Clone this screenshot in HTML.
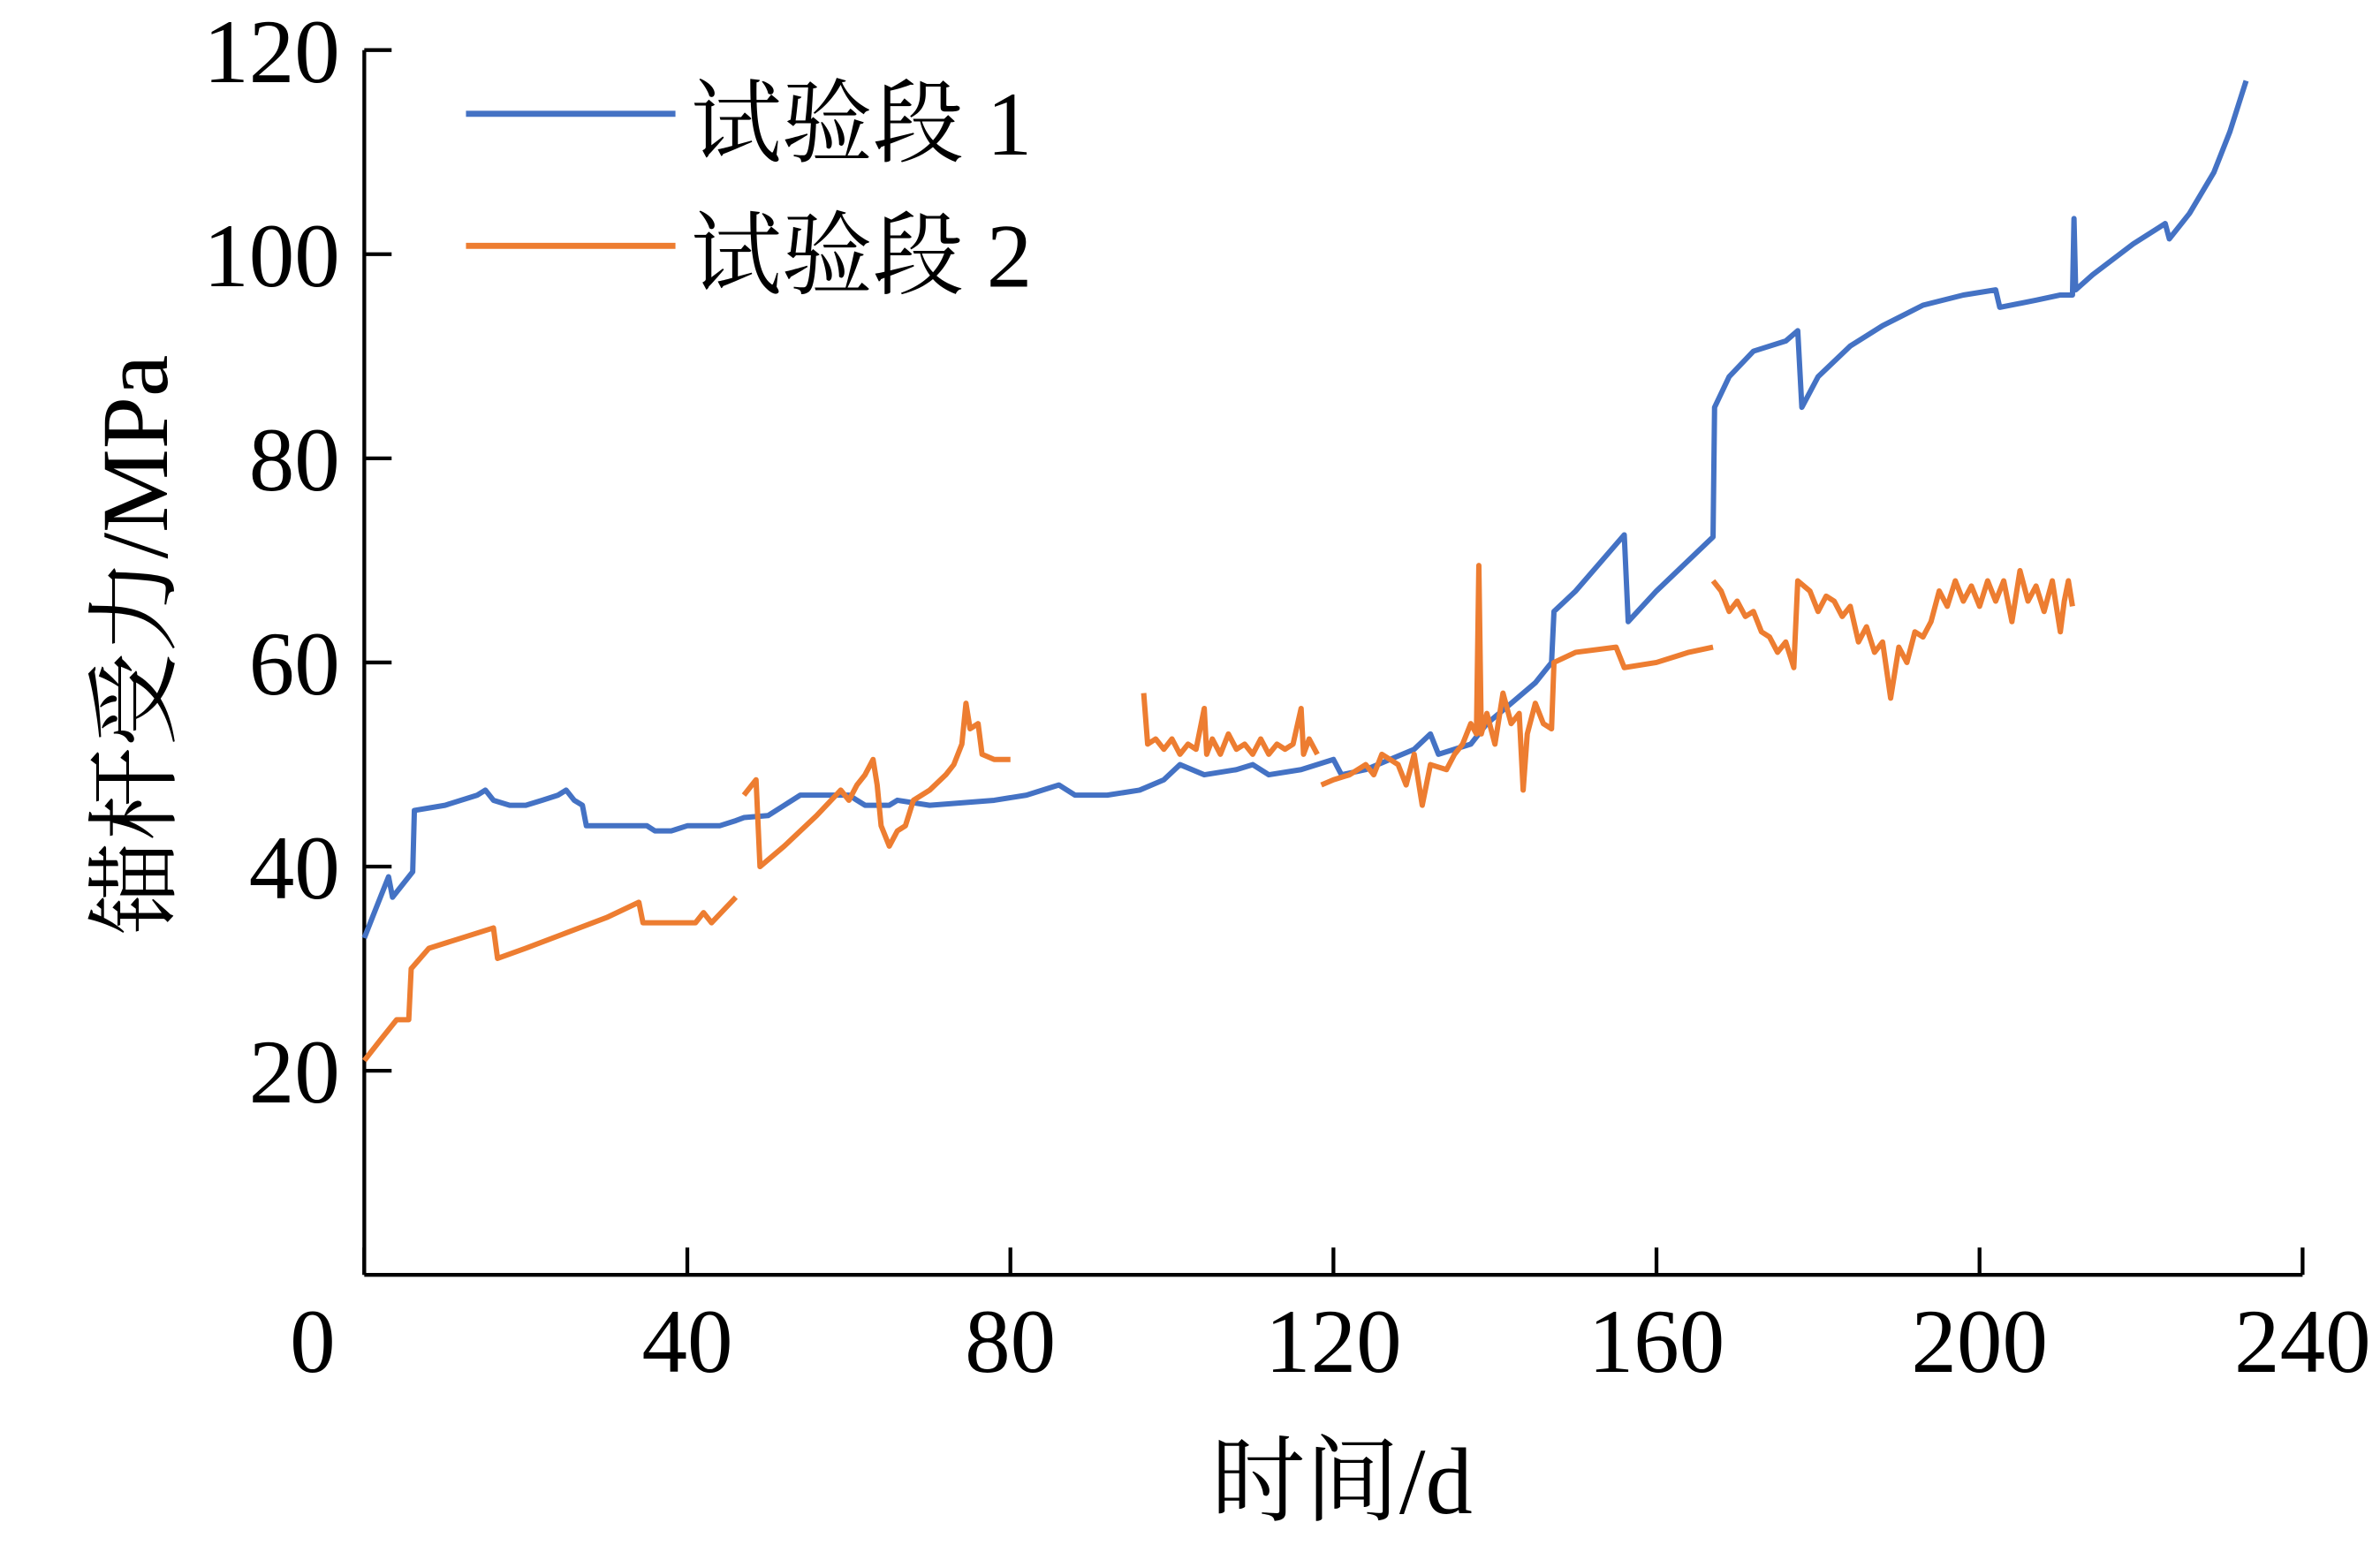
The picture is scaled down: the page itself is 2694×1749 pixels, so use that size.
<!DOCTYPE html>
<html><head><meta charset="utf-8"><style>
html,body{margin:0;padding:0;background:#fff;}
svg{display:block;}
text{font-family:"Liberation Serif","Noto Serif CJK SC",serif;fill:#000;}
</style></head><body>
<svg id="chart" width="2694" height="1749" viewBox="0 0 1568 1018" preserveAspectRatio="none" xmlns="http://www.w3.org/2000/svg">
<g id="axes"></g>
<g id="series"></g>
<g>
<line x1="307" y1="75" x2="445" y2="75" stroke="#4472C4" stroke-width="4"/>
<text x="455" y="102" font-size="60">试验段 1</text>
<line x1="307" y1="162" x2="445" y2="162" stroke="#ED7D31" stroke-width="4"/>
<text x="455" y="189" font-size="60">试验段 2</text>
</g>
<text x="884" y="997" font-size="62" text-anchor="middle">时间/d</text>
<text transform="translate(110,425) rotate(-90)" font-size="62" text-anchor="middle">锚杆受力/MPa</text>
</svg>
<script>
const xTicks = [0,40,80,120,160,200,240];
const yTicks = [20,40,60,80,100,120];
const series1 = [[0,33],[1,35],[2,37],[3,39],[3.5,37],[4,37.5],[5,38.5],[6,39.5],[6.2,45.5],[10,46],[14,47],[15,47.5],[16,46.5],[18,46],[20,46],[22,46.5],[24,47],[25,47.5],[26,46.5],[27,46],[27.5,44],[30,44],[35,44],[36,43.5],[38,43.5],[40,44],[44,44],[46,44.5],[47,44.8],[50,45],[52,46],[54,47],[60,47],[61,46.5],[62,46],[65,46],[66,46.5],[70,46],[78,46.5],[82,47],[86,48],[88,47],[92,47],[96,47.5],[99,48.5],[101,50],[104,49],[108,49.5],[110,50],[112,49],[116,49.5],[120,50.5],[121,49],[124,49.5],[127,50.5],[130,51.5],[132,53],[133,51],[137,52],[139,54],[142,56],[145,58],[147,60],[147.3,65],[150,67],[156,72.5],[156.5,64],[160,67],[167,72.3],[167.2,85],[169,88],[172,90.5],[176,91.5],[177.5,92.5],[178,85],[180,88],[184,91],[188,93],[193,95],[198,96],[202,96.5],[202.5,94.8],[207,95.5],[210,96],[211.5,96],[211.7,103.5],[211.9,96.5],[214,98],[219,101],[223,103],[223.5,101.5],[226,104],[229,108],[231,112],[233,117]];
const series2 = [[0,21],[2,23],[4,25],[5.5,25],[5.8,30],[8,32],[12,33],[16,34],[16.5,31],[20,32],[25,33.5],[30,35],[34,36.5],[34.5,34.5],[38,34.5],[41,34.5],[42,35.5],[43,34.5],[46,37],null,
[47,47],[48.5,48.5],[49,40],[52,42],[56,45],[59,47.5],[60,46.5],[61,48],[62,49],[63,50.5],[63.5,48],[64,44],[65,42],[66,43.5],[67,44],[68,46.5],[70,47.5],[72,49],[73,50],[74,52],[74.5,56],[75,53.5],[76,54],[76.5,51],[78,50.5],[80,50.5],null,
[96.5,57],[97,52],[98,52.5],[99,51.5],[100,52.5],[101,51],[102,52],[103,51.5],[104,55.5],[104.3,51],[105,52.5],[106,51],[107,53],[108,51.5],[109,52],[110,51],[111,52.5],[112,51],[113,52],[114,51.5],[115,52],[116,55.5],[116.3,51],[117,52.5],[118,51],null,
[118.5,48],[120,48.5],[122,49],[124,50],[125,49],[126,51],[128,50],[129,48],[130,51],[131,46],[132,50],[134,49.5],[135,51],[136,52],[137,54],[137.7,53],[138,69.5],[138.3,53],[139,55],[140,52],[141,57],[142,54],[143,55],[143.5,47.5],[144,53],[145,56],[146,54],[147,53.5],[147.3,60],[150,61],[155,61.5],[156,59.5],[160,60],[164,61],[167,61.5],null,
[167,68],[168,67],[169,65],[170,66],[171,64.5],[172,65],[173,63],[174,62.5],[175,61],[176,62],[177,59.5],[177.5,68],[179,67],[180,65],[181,66.5],[182,66],[183,64.5],[184,65.5],[185,62],[186,63.5],[187,61],[188,62],[189,56.5],[190,61.5],[191,60],[192,63],[193,62.5],[194,64],[195,67],[196,65.5],[197,68],[198,66],[199,67.5],[200,65.5],[201,68],[202,66],[203,68],[204,64],[205,69],[206,66],[207,67.5],[208,65],[209,68],[210,63],[210.5,66],[211,68],[211.5,65.5]];
const NS='http://www.w3.org/2000/svg';
const X0=240,X1=1517,Y0=840,Y1=33;
function xs(d){return X0+(d/240)*(X1-X0);}
function ys(v){return Y0-(v/120)*(Y0-Y1);}
const axes=document.getElementById('axes');
function mk(tag,attrs,parent){const e=document.createElementNS(NS,tag);for(const k in attrs)e.setAttribute(k,attrs[k]);parent.appendChild(e);return e;}
let l=mk('line',{x1:X0,y1:Y1,x2:X0,y2:Y0,stroke:'#000','stroke-width':2.5},axes);


l=mk('line',{x1:X0,y1:Y0,x2:X1,y2:Y0,stroke:'#000','stroke-width':2.5},axes);


xTicks.forEach(t=>{
 const tk=mk('line',{x1:xs(t),y1:Y0,x2:xs(t),y2:Y0-18,stroke:'#000','stroke-width':2.5},axes);
 
 
 const tx=mk('text',{x:xs(t)-(t===0?34:0),y:904,'font-size':60,'text-anchor':'middle'},axes);
 tx.textContent=t;
 
 
});
yTicks.forEach(t=>{
 const tk=mk('line',{x1:X0,y1:ys(t),x2:X0+18,y2:ys(t),stroke:'#000','stroke-width':2.5},axes);
 
 
 const tx=mk('text',{x:224,y:ys(t)+21,'font-size':60,'text-anchor':'end'},axes);
 tx.textContent=t;
 
 
});
function pathD(arr){let d='',pen=false;arr.forEach(p=>{if(!p){pen=false;return;}d+=(pen?'L':'M')+xs(p[0]).toFixed(1)+','+ys(p[1]).toFixed(1);pen=true;});return d;}
const g=document.getElementById('series');
let p1=mk('path',{d:pathD(series1),fill:'none',stroke:'#4472C4','stroke-width':3.5,'stroke-linejoin':'round'},g);


let p2=mk('path',{d:pathD(series2),fill:'none',stroke:'#ED7D31','stroke-width':3.5,'stroke-linejoin':'round'},g);


</script>
</body></html>
